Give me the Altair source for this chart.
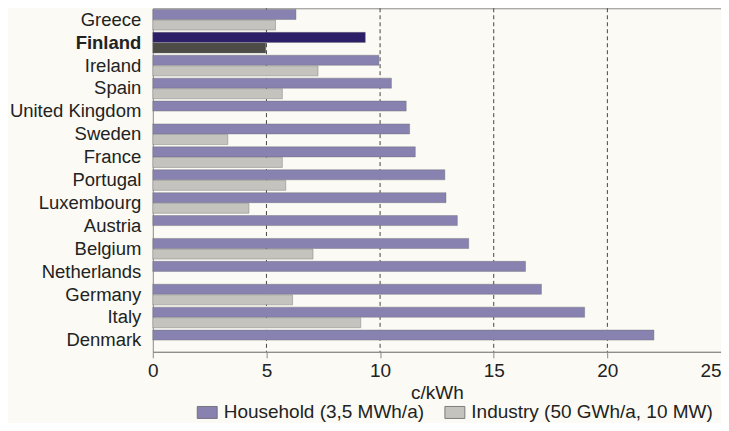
import altair as alt
import pandas as pd

countries = ["Greece", "Finland", "Ireland", "Spain", "United Kingdom", "Sweden",
             "France", "Portugal", "Luxembourg", "Austria", "Belgium", "Netherlands",
             "Germany", "Italy", "Denmark"]
household = [6.3, 9.35, 9.95, 10.5, 11.15, 11.3, 11.55, 12.85, 12.9, 13.4, 13.9, 16.4, 17.1, 19.0, 22.05]
industry = [5.4, 4.97, 7.27, 5.7, None, 3.3, 5.7, 5.85, 4.23, None, 7.05, None, 6.15, 9.15, None]
grid_values = [5, 10, 15, 20]

HH = "Household (3,5 MWh/a)"
IN = "Industry (50 GWh/a, 10 MW)"
FH = "Finland household"
FI = "Finland industry"

rows = []
for c, h, i in zip(countries, household, industry):
    rows.append({"country": c, "series": HH, "value": h, "key": FH if c == "Finland" else HH})
    if i is not None:
        rows.append({"country": c, "series": IN, "value": i, "key": FI if c == "Finland" else IN})
df = pd.DataFrame(rows)

FONT = "Liberation Sans"
TXT = "#222222"
FS = 19

xscale = alt.Scale(domain=[0, 25], nice=False)

grid = alt.Chart(pd.DataFrame({"v": grid_values})).mark_rule(
    color="#444444", strokeDash=[4, 3], strokeWidth=1
).encode(x=alt.X("v:Q", scale=xscale))

bars = alt.Chart(df).mark_bar(stroke="#6a6a70", strokeWidth=0.4).encode(
    x=alt.X("value:Q", scale=xscale,
            axis=alt.Axis(values=[0, 5, 10, 15, 20, 25], format="d", grid=False,
                          title="c/kWh", titleFontSize=FS, titleFontWeight="normal",
                          titleFont=FONT, titleColor=TXT, titlePadding=3,
                          labelFont=FONT, labelFontSize=FS, labelColor=TXT,
                          labelFlush=False,
                          labelAlign=alt.expr("datum.value == 25 ? 'right' : 'center'"),
                          labelPadding=4, tickSize=6, tickColor="#8a8a8a",
                          domainColor="#8a8a8a")),
    y=alt.Y("country:N", sort=countries,
            scale=alt.Scale(paddingInner=0.1, paddingOuter=0.05),
            axis=alt.Axis(title=None, ticks=False, domain=False,
                          labelFont=FONT, labelFontSize=18.5, labelColor=TXT,
                          labelPadding=12, labelLimit=300,
                          labelFontWeight=alt.expr("datum.value == 'Finland' ? 'bold' : 'normal'"))),
    yOffset=alt.YOffset("series:N", sort=[HH, IN],
                        scale=alt.Scale(paddingInner=0.05)),
    color=alt.Color("key:N",
                    scale=alt.Scale(domain=[HH, IN, FH, FI],
                                    range=["#8782b0", "#c4c3bd", "#2d1e68", "#4d4b45"]),
                    legend=alt.Legend(values=[HH, IN], title=None, orient="none",
                                      direction="horizontal", legendX=44, legendY=394,
                                      labelFont=FONT, labelFontSize=FS, labelColor=TXT,
                                      labelLimit=400,
                                      symbolType="M-1,-0.6H1V0.6H-1Z", symbolSize=400,
                                      symbolStrokeColor="#666666", symbolStrokeWidth=0.8,
                                      labelOffset=6, columnPadding=18)),
)

chart = alt.layer(grid, bars).properties(
    width=569, height=344,
    autosize=alt.AutoSizeParams(type="none"),
    padding={"left": 145, "top": 0, "right": 0, "bottom": 71},
    background="#fbfaf4",
).configure_view(stroke="#8a8a8a", strokeWidth=1)

chart.save("out.html", embed_options={"renderer": "svg", "actions": False})
